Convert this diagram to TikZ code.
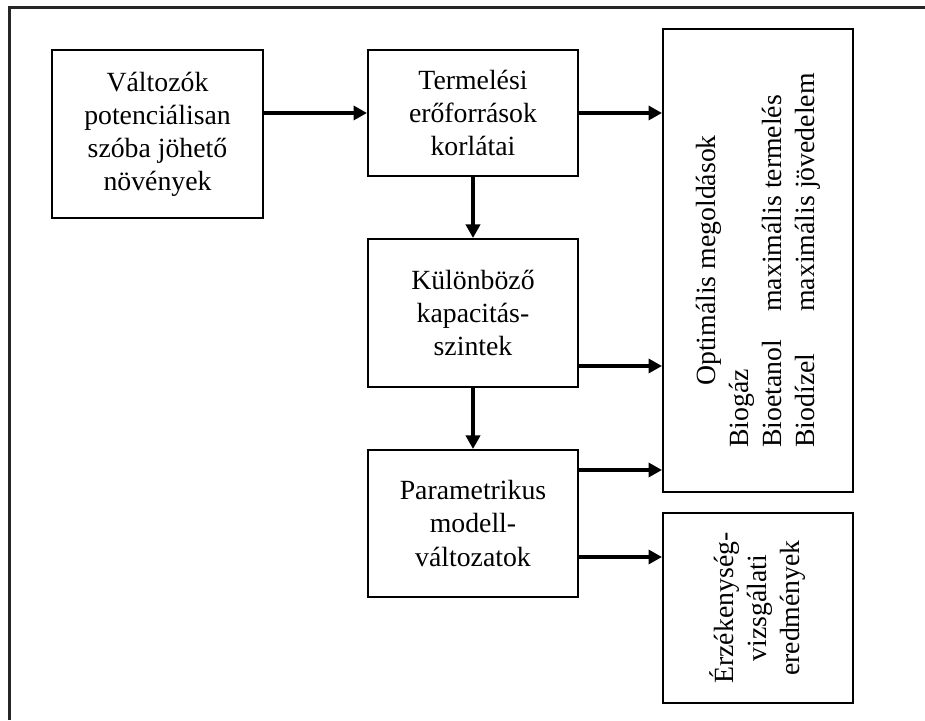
\documentclass[tikz,border=0pt]{standalone}
\usepackage{fontspec}
\setmainfont{Liberation Serif}
\usepackage{tikz}
\usetikzlibrary{arrows.meta,calc}
\colorlet{framegray}{black!85}
\newcommand{\diagfont}{\fontsize{15.8}{18.8}\selectfont}

\begin{document}
\begin{tikzpicture}[scale=1,>={Triangle[length=0.27cm,width=0.28cm]},
  box/.style={draw,line width=0.04cm,minimum width=4.2cm,align=center,inner sep=2pt,font=\diagfont},
  flow/.style={->,line width=0.08cm}]
\useasboundingbox (0,0) rectangle (18.5,14.4);
\draw[framegray,line width=0.06cm] (0.19,0)--(0.19,14.25)--(18.5,14.25);
% left and middle column
\node[box,minimum width=4.22cm,minimum height=3.36cm] (valt) at (3.15,11.72) {Változók\\potenciálisan\\szóba jöhető\\növények};
\node[box,minimum height=2.52cm] (term) at (9.46,12.14) {Termelési\\erőforrások\\korlátai};
\node[box,minimum height=2.96cm] (kap) at (9.46,8.14) {Különböző\\kapacitás-\\szintek};
\node[box,minimum height=2.94cm] (par) at (9.46,3.93) {Parametrikus\\modell-\\változatok};
% result boxes, text turned up (north anchor is on the left side)
\node[box,rotate=90,minimum width=9.26cm,minimum height=3.8cm] (opt) at (15.16,9.19)
  {\begin{tabular}{@{}p{2.72cm}@{}l@{}}
   \multicolumn{2}{@{}c@{}}{Optimális megoldások}\\
   Biogáz & \\
   Bioetanol & maximális termelés\\
   Biodízel & maximális jövedelem
   \end{tabular}};
\node[box,rotate=90,minimum width=3.8cm,minimum height=3.8cm] (erz) at (15.16,2.24) {Érzékenység-\\vizsgálati\\eredmények};
% connectors
\draw[flow] (valt.east |- term.west)--(term.west);
\draw[flow] (term.east)--(term.east -| opt.north);
\draw[flow] (term.south)--(kap.north);
\draw[flow] (kap.south)--(par.north);
\draw[flow] ($(kap.south east)+(0,0.44)$) coordinate (k1)--(k1 -| opt.north);
\draw[flow] ($(par.north east)+(0,-0.42)$) coordinate (p1)--(p1 -| opt.north);
\draw[flow] ($(par.south east)+(0,0.82)$) coordinate (p2)--(p2 -| erz.north);
\end{tikzpicture}
\end{document}
